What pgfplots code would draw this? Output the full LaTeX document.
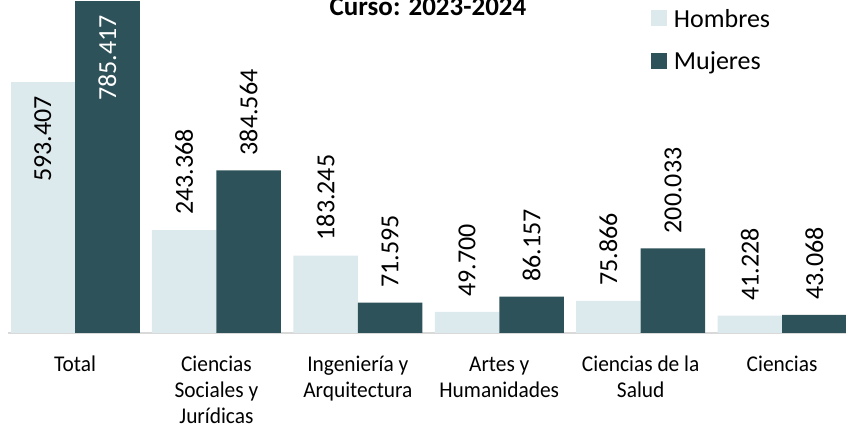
\documentclass[border=0pt]{standalone}
\usepackage{pgfplots}
\pgfplotsset{compat=1.18}
\usepackage{fontspec}
\setmainfont{Carlito}
\newfontfamily\condfont[FakeStretch=0.95]{Carlito}
\definecolor{hombres}{HTML}{DCE9ED}
\definecolor{mujeres}{HTML}{2E5259}
\definecolor{axisgray}{HTML}{D9D9D9}
\begin{document}
\begin{tikzpicture}
\useasboundingbox (0,0) rectangle (846pt,428pt);
\clip (0,0) rectangle (846pt,428pt);
\node[font=\bfseries\fontsize{27}{30}\selectfont, anchor=base] at (428pt,412pt) {Curso: 2023-2024};
\begin{axis}[
  at={(8pt,95pt)}, anchor=south west,
  scale only axis, width=838pt, height=333pt,
  xmin=-0.474, xmax=5.452, ymin=0, ymax=787600,
  ybar, bar width=0.456,
  axis y line=none,
  axis x line=bottom,
  axis line style={-, draw=axisgray, line width=1.5pt},
  xtick={0,1,2,3,4,5},
  major tick length=0pt,
  xticklabels={\strut Total, \strut Ciencias\\Sociales y\\Jurídicas, \strut Ingeniería y\\Arquitectura, \strut Artes y\\Humanidades, \strut Ciencias de la\\Salud, \strut Ciencias},
  xticklabel style={align=center, anchor=north, inner sep=0pt, yshift=-20pt,
    font=\condfont\fontsize{22.5}{26}\selectfont},
  /pgf/number format/.cd, fixed, precision=0, 1000 sep={.}, assume math mode=true,
  /pgfplots/.cd,
  nodes near coords style={font=\fontsize{26}{30}\selectfont, rotate=90, inner sep=0pt},
  legend style={at={(0.767,0.978)}, anchor=north west, draw=none, fill=none,
    font=\fontsize{26}{30}\selectfont, row sep=19pt, inner sep=0pt,
    /tikz/every odd column/.append style={column sep=5pt}},
  legend cell align=left,
  legend image code/.code={\fill[#1] (0pt,-7pt) rectangle (16pt,9pt);},
]
% Hombres, categories 1-5 (labels above)
\addplot[fill=hombres, draw=none, bar shift=-0.228,
  nodes near coords, nodes near coords style={anchor=west, xshift=15pt, text=black}]
  coordinates {(1,243368) (2,183245) (3,49700) (4,75866) (5,41228)};
\addlegendentry{Hombres}
% Mujeres, categories 1-5
\addplot[fill=mujeres, draw=none, bar shift=0.228,
  nodes near coords, nodes near coords style={anchor=west, xshift=15pt, text=black}]
  coordinates {(1,384564) (2,71595) (3,86157) (4,200033) (5,43068)};
\addlegendentry{Mujeres}
% Total (labels inside)
\addplot[fill=hombres, draw=none, bar shift=-0.228, forget plot,
  nodes near coords, nodes near coords style={anchor=east, xshift=-14pt, text=black}]
  coordinates {(0,593407)};
\addplot[fill=mujeres, draw=none, bar shift=0.228, forget plot,
  nodes near coords, nodes near coords style={anchor=east, xshift=-14pt, text=white}]
  coordinates {(0,785417)};
\end{axis}
\end{tikzpicture}
\end{document}
